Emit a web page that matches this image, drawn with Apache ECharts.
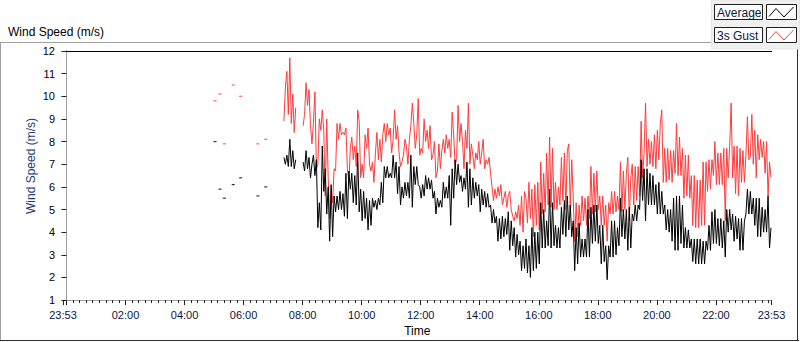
<!DOCTYPE html>
<html>
<head>
<meta charset="utf-8">
<script src="https://cdn.jsdelivr.net/npm/echarts@6/dist/echarts.min.js"></script>
<style>
  html, body { margin: 0; padding: 0; background: #fff; }
  #chart { width: 800px; height: 342px; }
</style>
</head>
<body>
<div id="chart"></div>
<script>
// sample times, minutes after midnight (23:53 of the day before = -7)
const times = [
  442, 445, 448, 451, 454, 457, 460, 463, 466, 469,
  472, 475, 478, 481, 484, 487, 490, 493, 496, 499,
  502, 505, 508, 511, 514, 517, 520, 523, 526, 529,
  532, 535, 538, 541, 544, 547, 550, 553, 556, 559,
  562, 565, 568, 571, 574, 577, 580, 583, 586, 589,
  592, 595, 598, 601, 604, 607, 610, 613, 616, 619,
  622, 625, 628, 631, 634, 637, 640, 643, 646, 649,
  652, 655, 658, 661, 664, 667, 670, 673, 676, 679,
  682, 685, 688, 691, 694, 697, 700, 703, 706, 709,
  712, 715, 718, 721, 724, 727, 730, 733, 736, 739,
  742, 745, 748, 751, 754, 757, 760, 763, 766, 769,
  772, 775, 778, 781, 784, 787, 790, 793, 796, 799,
  802, 805, 808, 811, 814, 817, 820, 823, 826, 829,
  832, 835, 838, 841, 844, 847, 850, 853, 856, 859,
  862, 865, 868, 871, 874, 877, 880, 883, 886, 889,
  892, 895, 898, 901, 904, 907, 910, 913, 916, 919,
  922, 925, 928, 931, 934, 937, 940, 943, 946, 949,
  952, 955, 958, 961, 964, 967, 970, 973, 976, 979,
  982, 985, 988, 991, 994, 997, 1000, 1003, 1006, 1009,
  1012, 1015, 1018, 1021, 1024, 1027, 1030, 1033, 1036, 1039,
  1042, 1045, 1048, 1051, 1054, 1057, 1060, 1063, 1066, 1069,
  1072, 1075, 1078, 1081, 1084, 1087, 1090, 1093, 1096, 1099,
  1102, 1105, 1108, 1111, 1114, 1117, 1120, 1123, 1126, 1129,
  1132, 1135, 1138, 1141, 1144, 1147, 1150, 1153, 1156, 1159,
  1162, 1165, 1168, 1171, 1174, 1177, 1180, 1183, 1186, 1189,
  1192, 1195, 1198, 1201, 1204, 1207, 1210, 1213, 1216, 1219,
  1222, 1225, 1228, 1231, 1234, 1237, 1240, 1243, 1246, 1249,
  1252, 1255, 1258, 1261, 1264, 1267, 1270, 1273, 1276, 1279,
  1282, 1285, 1288, 1291, 1294, 1297, 1300, 1303, 1306, 1309,
  1312, 1315, 1318, 1321, 1324, 1327, 1330, 1333, 1336, 1339,
  1342, 1345, 1348, 1351, 1354, 1357, 1360, 1363, 1366, 1369,
  1372, 1375, 1378, 1381, 1384, 1387, 1390, 1393, 1396, 1399,
  1402, 1405, 1408, 1411, 1414, 1417, 1420, 1423, 1426, 1429,
  1432
]

// 3s gust, m/s
const gust = [
  8.9, 10.4, 11.1, 9.2, 11.7, 8.8, 10.1, 8.4,
  9.5, null, null, null, null, 8.7, 9.2, 10.6,
  9.6, 10.3, 8.7, 7.9, 8.8, 10.2, 6.8, 7.0,
  9.0, 8.5, 9.4, 8.5, 5.6, 9.0, 6.4, 4.6,
  5.9, 5.3, 6.8, 6.7, 8.8, 8.1, 8.8, 8.3,
  8.4, 8.3, 8.6, 6.8, 6.2, 7.7, 8.2, 7.2,
  7.8, 6.9, 9.4, 8.9, 6.4, 7.0, 6.4, 8.3,
  7.7, 8.6, 7.0, 6.7, 7.1, 6.2, 7.5, 8.4,
  7.2, 8.1, 7.1, 8.3, 8.8, 8.0, 8.8, 8.3,
  8.6, 7.5, 8.1, 9.4, 8.1, 8.7, 7.5, 6.9,
  7.1, 7.4, 8.1, 7.8, 7.0, 8.1, 8.7, 9.7,
  8.8, 7.7, 8.3, 9.9, 7.4, 7.7, 7.5, 9.0,
  8.0, 8.5, 7.7, 8.7, 7.2, 7.4, 8.0, 6.4,
  6.7, 7.9, 6.8, 7.6, 8.1, 7.5, 8.3, 7.7,
  8.1, 7.3, 9.3, 8.3, 7.0, 7.2, 9.6, 8.0,
  8.8, 8.0, 6.8, 8.5, 7.7, 9.7, 7.0, 7.9,
  7.4, 6.8, 7.5, 7.2, 8.0, 7.0, 7.5, 8.1,
  6.8, 7.2, 7.0, 7.3, 6.6, 6.0, 5.4, 5.9,
  5.5, 6.0, 5.6, 6.1, 5.2, 5.5, 5.8, 5.1,
  5.6, 5.8, 5.0, 4.7, 4.5, 4.9, 4.6, 5.2,
  4.3, 5.6, 4.0, 5.8, 5.5, 4.4, 6.2, 4.6,
  5.9, 3.8, 6.1, 4.3, 6.2, 4.1, 7.1, 4.8,
  6.6, 4.9, 7.5, 5.2, 8.2, 5.1, 7.7, 5.0,
  6.2, 5.0, 6.0, 5.2, 7.3, 5.4, 7.5, 5.0,
  7.6, 7.9, 5.0, 7.2, 5.5, 3.6, 5.3, 3.8,
  5.2, 4.3, 5.6, 4.5, 5.5, 4.3, 5.6, 4.6,
  6.9, 4.8, 6.6, 4.9, 6.7, 5.0, 5.6, 4.3,
  5.6, 4.3, 5.2, 3.6, 5.3, 4.8, 5.8, 4.8,
  5.8, 4.9, 5.6, 5.0, 7.1, 4.9, 6.7, 5.0,
  6.6, 7.3, 4.5, 6.4, 7.0, 5.2, 6.9, 5.4,
  6.9, 5.6, 8.9, 6.4, 7.5, 9.7, 6.9, 8.1,
  7.0, 8.0, 6.9, 8.3, 6.8, 8.5, 7.2, 8.8,
  9.4, 6.2, 7.7, 6.2, 7.7, 6.3, 7.6, 6.2,
  7.6, 6.6, 8.8, 6.5, 8.2, 6.5, 7.7, 5.5,
  7.4, 5.6, 7.4, 5.5, 6.5, 4.3, 6.5, 4.2,
  6.3, 4.2, 6.3, 4.3, 7.1, 4.3, 7.1, 5.8,
  7.2, 5.9, 7.2, 6.5, 8.0, 6.1, 7.5, 6.1,
  7.5, 6.1, 7.7, 4.5, 7.7, 6.4, 7.8, 9.7,
  6.4, 7.8, 5.7, 7.8, 5.6, 7.7, 6.2, 7.6,
  6.2, 7.4, 9.1, 7.2, 7.3, 9.2, 7.0, 8.5,
  6.4, 8.3, 7.2, 8.1, 7.3, 8.0, 6.6, 8.0,
  5.6, 7.1, 6.4
]

// average, m/s
const average = [
  7.3, 7.0, 7.4, 6.9, 8.1, 6.9, 7.6, 6.8,
  7.2, null, null, null, null, 7.1, 6.7, 7.6,
  6.8, 7.3, 6.4, 7.0, 7.4, 6.5, 7.2, 4.2,
  5.3, 4.1, 7.8, 5.8, 6.8, 4.8, 6.0, 3.6,
  6.1, 3.8, 5.6, 4.9, 5.6, 5.0, 5.8, 5.0,
  5.7, 4.7, 6.6, 4.6, 6.7, 5.9, 6.6, 5.3,
  6.5, 5.2, 7.5, 4.9, 5.9, 4.5, 5.8, 4.6,
  5.5, 4.1, 5.4, 4.3, 5.5, 5.1, 5.4, 5.0,
  5.5, 5.2, 6.2, 5.3, 6.9, 6.4, 6.9, 6.4,
  6.6, 6.4, 7.4, 6.4, 7.1, 5.7, 6.9, 5.2,
  6.0, 5.5, 6.2, 5.6, 6.2, 5.5, 7.4, 5.1,
  6.9, 6.1, 6.9, 6.1, 6.0, 5.5, 6.1, 5.6,
  6.5, 5.9, 6.4, 5.9, 6.3, 5.5, 5.8, 4.8,
  5.5, 5.1, 5.4, 5.1, 6.2, 5.5, 6.0, 5.5,
  6.5, 4.3, 6.8, 5.5, 7.2, 6.1, 7.0, 6.2,
  6.5, 5.8, 6.4, 5.9, 7.1, 5.1, 6.8, 5.2,
  6.4, 5.5, 6.2, 5.6, 6.1, 4.9, 5.9, 5.2,
  5.8, 5.1, 5.7, 5.1, 5.2, 4.4, 5.0, 4.4,
  4.7, 3.6, 4.6, 3.7, 4.7, 3.8, 4.6, 3.9,
  4.9, 3.2, 4.5, 3.4, 4.2, 2.9, 3.9, 3.0,
  3.6, 2.3, 3.4, 2.4, 3.7, 2.2, 3.4, 2.0,
  4.2, 2.3, 4.0, 2.4, 4.0, 2.6, 5.3, 3.3,
  5.0, 3.3, 4.5, 3.4, 5.9, 3.3, 5.3, 3.4,
  4.3, 3.3, 4.2, 3.3, 5.1, 3.9, 5.4, 3.8,
  5.6, 4.1, 5.2, 3.8, 4.5, 2.3, 4.2, 2.6,
  4.4, 2.9, 3.7, 2.9, 3.7, 2.9, 5.0, 2.9,
  5.1, 3.5, 5.2, 3.6, 5.2, 3.5, 4.3, 2.6,
  4.3, 2.7, 3.4, 1.9, 3.4, 2.9, 4.5, 2.9,
  4.5, 3.0, 4.2, 3.4, 5.5, 3.8, 5.0, 3.7,
  5.0, 3.2, 5.1, 3.3, 4.8, 4.5, 5.2, 4.5,
  5.2, 5.0, 7.2, 5.4, 6.8, 4.5, 6.8, 5.2,
  6.6, 5.2, 6.5, 5.2, 6.1, 4.8, 6.2, 4.8,
  5.8, 4.8, 5.2, 4.1, 5.0, 4.0, 5.0, 3.6,
  5.5, 3.2, 5.6, 3.2, 5.6, 3.5, 5.2, 3.3,
  4.2, 3.3, 4.1, 3.3, 3.7, 2.7, 3.7, 2.6,
  3.7, 2.6, 3.7, 2.6, 3.6, 2.6, 3.6, 3.2,
  4.3, 3.2, 4.9, 3.5, 5.0, 3.5, 4.6, 3.4,
  4.6, 3.3, 4.5, 2.9, 5.0, 4.0, 5.0, 4.1,
  4.8, 3.6, 4.7, 3.7, 4.6, 3.2, 4.6, 3.2,
  4.5, 4.8, 5.9, 4.8, 5.8, 4.8, 5.5, 4.3,
  5.5, 3.8, 5.5, 3.8, 5.1, 4.0, 5.0, 4.0,
  5.6, 3.3, 4.2
]

// isolated early readings
const earlyTimes = [302, 312, 321, 339, 354, 389, 405]
const earlyAverage = [8.0, 5.9, 5.5, 6.1, 6.4, 5.6, 6.0]
const earlyGust = [9.8, 10.1, 7.9, 10.5, 10.0, 7.9, 8.1]

const xLabelValues = [-7, 120, 240, 360, 480, 600, 720, 840, 960, 1080, 1200, 1320, 1433]
const xMajorTicks = [-7, 0, 120, 240, 360, 480, 600, 720, 840, 960, 1080, 1200, 1320, 1433]
const xMinorTicks = [
  13.33, 26.67, 40, 53.33, 66.67, 80, 93.33, 106.67,
  133.33, 146.67, 160, 173.33, 186.67, 200, 213.33, 226.67,
  253.33, 266.67, 280, 293.33, 306.67, 320, 333.33, 346.67,
  373.33, 386.67, 400, 413.33, 426.67, 440, 453.33, 466.67,
  493.33, 506.67, 520, 533.33, 546.67, 560, 573.33, 586.67,
  613.33, 626.67, 640, 653.33, 666.67, 680, 693.33, 706.67,
  733.33, 746.67, 760, 773.33, 786.67, 800, 813.33, 826.67,
  853.33, 866.67, 880, 893.33, 906.67, 920, 933.33, 946.67,
  973.33, 986.67, 1000, 1013.33, 1026.67, 1040, 1053.33, 1066.67,
  1093.33, 1106.67, 1120, 1133.33, 1146.67, 1160, 1173.33, 1186.67,
  1213.33, 1226.67, 1240, 1253.33, 1266.67, 1280, 1293.33, 1306.67,
  1333.33, 1346.67, 1360, 1373.33, 1386.67, 1400, 1413.33, 1426.67
]

const font = 'Liberation Sans'
const labelColor = '#0c1640'
const gustColor = '#ff3b3b'

function clock(v) {
  const m = ((Math.round(v) % 1440) + 1440) % 1440
  const h = Math.floor(m / 60)
  const mm = m % 60
  return (h < 10 ? '0' : '') + h + ':' + (mm < 10 ? '0' : '') + mm
}

const chart = echarts.init(document.getElementById('chart'), null, { renderer: 'svg' })

const xBase = { type: 'value', min: -7, max: 1433, splitLine: { show: false } }

const option = {
  animation: false,
  backgroundColor: '#fff',
  textStyle: { fontFamily: font },
  title: {
    text: 'Wind Speed (m/s)',
    left: 3,
    top: 21,
    textStyle: { fontSize: 12, fontWeight: 'normal', color: '#000', fontFamily: font }
  },
  grid: { left: 63, top: 51, width: 708.5, height: 252 },
  xAxis: [
    {
      ...xBase,
      position: 'bottom',
      name: 'Time',
      nameLocation: 'middle',
      nameGap: 24,
      nameTextStyle: { fontSize: 12, color: '#000', fontFamily: font },
      axisLine: { show: true, lineStyle: { color: '#a0a0a0', width: 1 } },
      axisTick: { show: true, customValues: xMajorTicks, length: 5, lineStyle: { color: '#222' } },
      axisLabel: {
        customValues: xLabelValues,
        formatter: clock,
        margin: 9,
        fontSize: 11,
        color: labelColor,
        fontFamily: font,
        showMinLabel: true,
        showMaxLabel: true
      }
    },
    {
      ...xBase,
      position: 'bottom',
      axisLine: { show: false },
      axisTick: { show: true, customValues: xMinorTicks, length: 3, lineStyle: { color: '#222' } },
      axisLabel: { show: false }
    },
    {
      ...xBase,
      position: 'top',
      axisLine: { show: true, lineStyle: { color: '#000', width: 1 } },
      axisTick: { show: false },
      axisLabel: { show: false }
    }
  ],
  yAxis: [
    {
      type: 'value',
      min: 1,
      max: 12,
      interval: 1,
      position: 'left',
      splitLine: { show: false },
      axisLine: { show: true, lineStyle: { color: '#000', width: 1 } },
      axisTick: { show: true, length: 5, lineStyle: { color: '#222' } },
      axisLabel: { fontSize: 11, color: '#000', margin: 8, fontFamily: font }
    },
    {
      type: 'value',
      min: 1,
      max: 12,
      position: 'right',
      splitLine: { show: false },
      axisLine: { show: true, lineStyle: { color: '#a0a0a0', width: 1 } },
      axisTick: { show: false },
      axisLabel: { show: false }
    }
  ],
  series: [
    {
      name: '3s Gust',
      type: 'line',
      data: times.map((t, i) => [t, gust[i]]),
      showSymbol: false,
      connectNulls: false,
      lineStyle: { color: gustColor, width: 1 },
      itemStyle: { color: gustColor }
    },
    {
      name: 'Average',
      type: 'line',
      data: times.map((t, i) => [t, average[i]]),
      showSymbol: false,
      connectNulls: false,
      lineStyle: { color: '#000', width: 1 },
      itemStyle: { color: '#000' }
    },
    {
      name: '3s Gust early',
      type: 'scatter',
      data: earlyTimes.map((t, i) => [t, earlyGust[i]]),
      symbol: 'rect',
      symbolSize: [3, 1.2],
      itemStyle: { color: gustColor }
    },
    {
      name: 'Average early',
      type: 'scatter',
      data: earlyTimes.map((t, i) => [t, earlyAverage[i]]),
      symbol: 'rect',
      symbolSize: [3, 1.2],
      itemStyle: { color: '#000' }
    }
  ],
  graphic: [
    // outer frame
    { type: 'line', shape: { x1: 0, y1: 42.5, x2: 712, y2: 42.5 }, style: { stroke: '#a0a0a0', lineWidth: 1 } },
    { type: 'line', shape: { x1: 0.5, y1: 42, x2: 0.5, y2: 341 }, style: { stroke: '#a0a0a0', lineWidth: 1 } },
    { type: 'line', shape: { x1: 0, y1: 340.5, x2: 799, y2: 340.5 }, style: { stroke: '#303030', lineWidth: 1 } },
    { type: 'line', shape: { x1: 797.5, y1: 49, x2: 797.5, y2: 341 }, style: { stroke: '#303030', lineWidth: 1 } },
    // legend panel
    { type: 'rect', shape: { x: 711.5, y: 0, width: 88, height: 49 }, style: { fill: '#f0f0f0', stroke: '#e6e6e6' } },
    { type: 'rect', shape: { x: 714.5, y: 4.5, width: 48, height: 15 }, style: { fill: '#fff', stroke: '#202020', lineWidth: 1 } },
    { type: 'rect', shape: { x: 766.5, y: 4.5, width: 30, height: 15 }, style: { fill: '#fff', stroke: '#202020', lineWidth: 1 } },
    { type: 'rect', shape: { x: 714.5, y: 27.5, width: 48, height: 15 }, style: { fill: '#fff', stroke: '#202020', lineWidth: 1 } },
    { type: 'rect', shape: { x: 766.5, y: 27.5, width: 30, height: 15 }, style: { fill: '#fff', stroke: '#202020', lineWidth: 1 } },
    { type: 'text', x: 717, y: 12.5, style: { text: 'Average', fontSize: 12, fontFamily: font, fill: labelColor, verticalAlign: 'middle' } },
    { type: 'text', x: 717, y: 35.5, style: { text: '3s Gust', fontSize: 12, fontFamily: font, fill: labelColor, verticalAlign: 'middle' } },
    { type: 'polyline', shape: { points: [[769, 16.5], [776, 8.5], [784, 17], [793.5, 7]] }, style: { stroke: '#000', lineWidth: 1, fill: null } },
    { type: 'polyline', shape: { points: [[769, 39.5], [776, 31.5], [784, 40], [793.5, 30]] }, style: { stroke: gustColor, lineWidth: 1, fill: null } },
    // y axis name
    {
      type: 'text',
      x: 31,
      y: 166,
      rotation: Math.PI / 2,
      style: { text: 'Wind Speed (m/s)', fontSize: 12, fontFamily: font, fill: '#1c3a78', align: 'center', verticalAlign: 'middle' }
    }
  ]
}

chart.setOption(option)
</script>
</body>
</html>
